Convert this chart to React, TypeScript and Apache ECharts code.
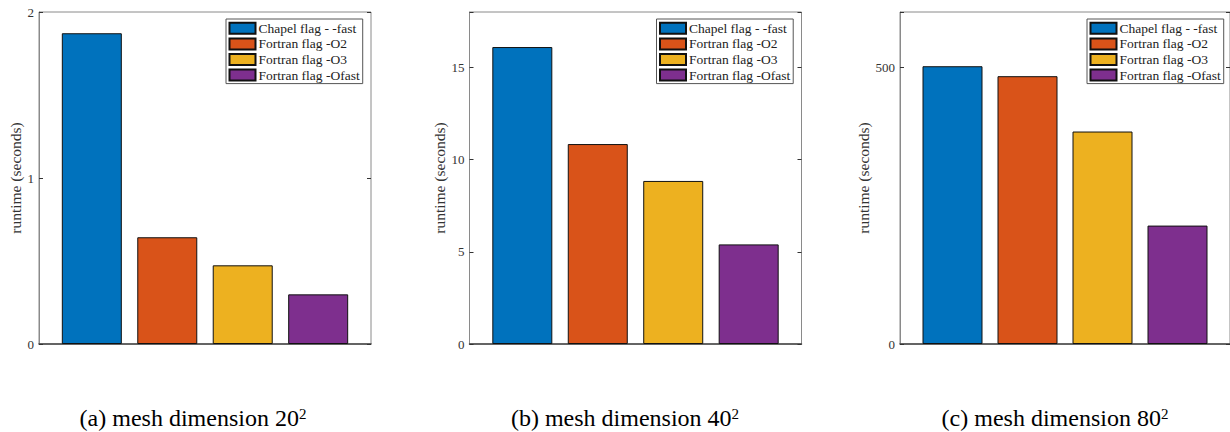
import React, { useEffect, useRef } from "react";
import * as echarts from "echarts";

const seriesNames = ["Chapel flag - -fast", "Fortran flag -O2", "Fortran flag -O3", "Fortran flag -Ofast"];
const barColors = ["#0072BD", "#D95319", "#EDB120", "#7E2F8E"];
const runtime20 = [1.872, 0.643, 0.474, 0.299];
const runtime40 = [16.1, 10.84, 8.84, 5.4];
const runtime80 = [502, 484, 384, 214];
const panelData = [runtime20, runtime40, runtime80];
const yMaxes = [2, 18, 600];
const yIntervals = [1, 5, 500];
const captions = ["(a) mesh dimension 20", "(b) mesh dimension 40", "(c) mesh dimension 80"];
const yAxisTitle = "runtime (seconds)";

const FONT = "Liberation Serif";

const gridLefts = [39, 469.5, 900];
const gridTop = 12;
const gridSize = 332;
const nameGaps = [15, 21.5, 29];
const captionCenters = [193, 625, 1055];

export default function App() {
  const ref = useRef<HTMLDivElement>(null);
  useEffect(() => {
    document.body.style.margin = "0";
    if (!ref.current) return;
    const chart = echarts.init(ref.current, undefined, { renderer: "svg" });

    const grid: any[] = [];
    const xAxis: any[] = [];
    const yAxis: any[] = [];
    const series: any[] = [];
    const legend: any[] = [];
    const graphic: any[] = [];

    panelData.forEach((vals, p) => {
      grid.push({
        left: gridLefts[p],
        top: gridTop,
        width: gridSize,
        height: gridSize,
        show: true,
        borderColor: "#8a8a8a",
        borderWidth: 1,
        backgroundColor: "#fff",
      });
      xAxis.push({
        type: "value",
        gridIndex: p,
        min: 0.3,
        max: 4.7,
        axisLine: { show: true, lineStyle: { color: "#444", width: 1.5 } },
        axisTick: { show: false },
        axisLabel: { show: false },
        splitLine: { show: false },
      });
      const interval = yIntervals[p];
      yAxis.push({
        type: "value",
        gridIndex: p,
        position: "left",
        min: 0,
        max: yMaxes[p],
        interval,
        name: yAxisTitle,
        nameLocation: "middle",
        nameGap: nameGaps[p],
        nameTextStyle: { fontFamily: FONT, fontSize: 15.5, color: "#333" },
        axisLine: { show: true, lineStyle: { color: "#8a8a8a", width: 1 } },
        axisTick: { show: true, inside: true, length: 4, lineStyle: { color: "#333" } },
        axisLabel: {
          margin: 5,
          fontFamily: FONT,
          fontSize: 13,
          color: "#333",
          formatter: (v: number) => (v % interval === 0 ? String(v) : ""),
        },
        splitLine: { show: false },
      });
      yAxis.push({
        type: "value",
        gridIndex: p,
        position: "right",
        min: 0,
        max: yMaxes[p],
        interval,
        axisLine: { show: false },
        axisTick: { show: true, inside: true, length: 4, lineStyle: { color: "#333" } },
        axisLabel: { show: false },
        splitLine: { show: false },
      });
      vals.forEach((v, i) => {
        series.push({
          type: "bar",
          name: seriesNames[i],
          xAxisIndex: p,
          yAxisIndex: p * 2,
          data: [[i + 1, v]],
          barWidth: 60,
          barGap: "-100%",
          itemStyle: { color: barColors[i], borderColor: "#111", borderWidth: 1 },
        });
      });
      legend.push({
        orient: "vertical",
        left: gridLefts[p] + 187,
        top: 19,
        data: seriesNames,
        icon: "rect",
        itemWidth: 26,
        itemHeight: 11,
        itemGap: 1.6,
        padding: [2.3, 3, 1.5, 2.5],
        borderColor: "#555",
        borderWidth: 1,
        backgroundColor: "#fff",
        selectedMode: false,
        textStyle: { fontFamily: FONT, fontSize: 13.5, color: "#222", padding: [0, 0, 0, -2] },
      });
      graphic.push({
        type: "text",
        x: captionCenters[p],
        y: 418,
        style: {
          text: captions[p] + "{sup|2}",
          fontFamily: FONT,
          fontSize: 24,
          fill: "#000",
          align: "center",
          verticalAlign: "middle",
          rich: {
            sup: { fontFamily: FONT, fontSize: 15, verticalAlign: "top", fill: "#000" },
          },
        },
      });
    });

    chart.setOption({
      animation: false,
      backgroundColor: "#fff",
      grid,
      xAxis,
      yAxis,
      series,
      legend,
      graphic,
    });
    return () => chart.dispose();
  }, []);
  return <div ref={ref} style={{ width: 1230, height: 432 }} />;
}
